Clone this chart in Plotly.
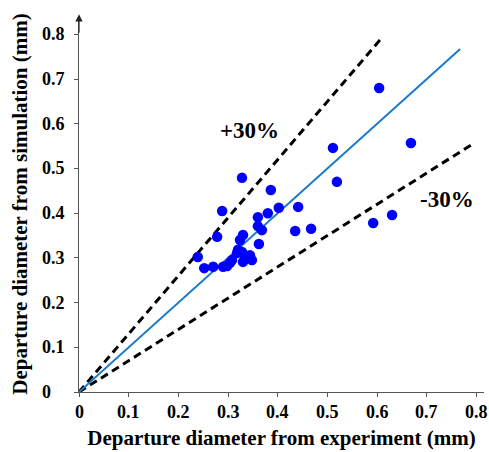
import plotly.graph_objects as go

# Measured data points (experiment, simulation) in mm
exp_mm = [0.604, 0.668, 0.511, 0.519, 0.630, 0.592, 0.328, 0.386, 0.288, 0.402,
          0.441, 0.380, 0.360, 0.360, 0.368, 0.435, 0.467, 0.278, 0.330, 0.324,
          0.362, 0.239, 0.252, 0.270, 0.290, 0.304, 0.308, 0.298, 0.320, 0.328,
          0.318, 0.334, 0.344, 0.330, 0.348]
sim_mm = [0.680, 0.557, 0.546, 0.470, 0.396, 0.378, 0.479, 0.452, 0.405, 0.412,
          0.414, 0.400, 0.391, 0.371, 0.362, 0.360, 0.365, 0.347, 0.351, 0.340,
          0.331, 0.302, 0.277, 0.280, 0.280, 0.289, 0.295, 0.282, 0.318, 0.313,
          0.311, 0.302, 0.306, 0.291, 0.295]

# Reference lines: y = k * x
ideal_x = [0, 0.767]
plus_x = [0, 0.61]
minus_x = [0, 0.795]
plus_k = 1.3
minus_k = 0.7

tick_vals = [0, 0.1, 0.2, 0.3, 0.4, 0.5, 0.6, 0.7, 0.8]
tick_text = ["0", "0.1", "0.2", "0.3", "0.4", "0.5", "0.6", "0.7", "0.8"]

FONT = "Liberation Serif"

fig = go.Figure()
fig.add_trace(go.Scatter(x=plus_x, y=[plus_k * v for v in plus_x], mode="lines",
                         line=dict(color="black", width=3, dash="8px,5px"), showlegend=False))
fig.add_trace(go.Scatter(x=minus_x, y=[minus_k * v for v in minus_x], mode="lines",
                         line=dict(color="black", width=3, dash="8px,5px"), showlegend=False))
fig.add_trace(go.Scatter(x=ideal_x, y=ideal_x, mode="lines",
                         line=dict(color="#1a7ac8", width=2), showlegend=False))
fig.add_trace(go.Scatter(x=exp_mm, y=sim_mm, mode="markers",
                         marker=dict(color="#0000ff", size=10.5), showlegend=False))

fig.add_annotation(x=0.344, y=0.586, text="<b>+30%</b>", showarrow=False,
                   font=dict(family=FONT, size=23, color="black"))
fig.add_annotation(x=0.740, y=0.43, text="<b>-30%</b>", showarrow=False,
                   font=dict(family=FONT, size=23, color="black"))
# arrow at top of y axis
fig.add_annotation(x=0, y=0.845, ax=0, ay=0.80, xref="x", yref="y", axref="x", ayref="y",
                   showarrow=True, arrowhead=2, arrowsize=1.2, arrowwidth=1.2,
                   arrowcolor="#222222", text="")

# left-aligned y tick labels
for v, t in zip(tick_vals, tick_text):
    fig.add_annotation(x=-0.097, xref="paper", y=v, yref="y", text="<b>" + t + "</b>",
                       showarrow=False, xanchor="left", yanchor="middle",
                       font=dict(family=FONT, size=18, color="black"))
# x tick labels
for v, t in zip(tick_vals, tick_text):
    fig.add_annotation(x=v, xref="x", y=-0.053, yref="paper", text="<b>" + t + "</b>",
                       showarrow=False, xanchor="center", yanchor="middle",
                       font=dict(family=FONT, size=18, color="black"))

fig.update_layout(
    width=489, height=452,
    margin=dict(l=79, r=5, t=16, b=60),
    paper_bgcolor="white", plot_bgcolor="white",
    font=dict(family=FONT, color="black"),
)
fig.update_xaxes(range=[0, 0.815], tickvals=tick_vals, showticklabels=False,
                 showgrid=False, zeroline=False, showline=True, linecolor="#555555", linewidth=1.2,
                 ticks="outside", ticklen=4, tickcolor="#555555",
                 title=dict(text="<b>Departure diameter from experiment (mm)</b>",
                            font=dict(family=FONT, size=21, color="black"), standoff=34))
fig.update_yaxes(range=[0, 0.841], tickvals=tick_vals, showticklabels=False,
                 showgrid=False, zeroline=False, showline=True, linecolor="#555555", linewidth=1.2,
                 ticks="outside", ticklen=4, tickcolor="#555555",
                 title=dict(text="<b>Departure diameter from simulation (mm)</b>",
                            font=dict(family=FONT, size=21, color="black"), standoff=40))

fig.write_html("out.html")
